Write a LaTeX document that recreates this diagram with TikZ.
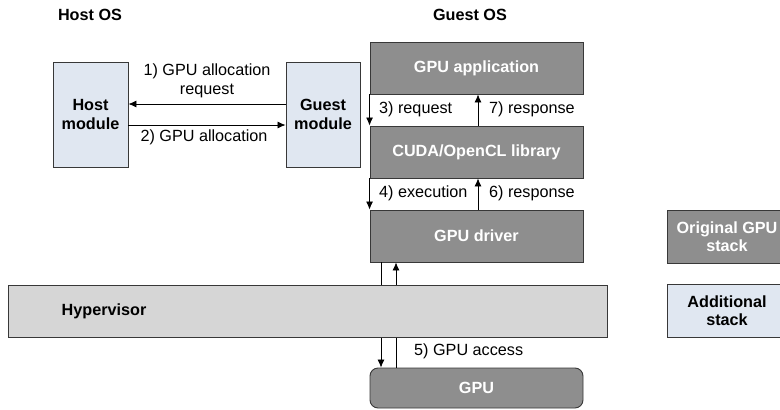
\documentclass[tikz,border=0pt]{standalone}
\usepackage{fontspec}
\setmainfont{Liberation Sans}
\usepackage{tikz}
\usetikzlibrary{arrows.meta}
\definecolor{stackgray}{HTML}{8E8E8E}
\definecolor{addblue}{HTML}{E0E7F1}
\definecolor{hypgray}{HTML}{D6D6D6}
\definecolor{edgegray}{HTML}{383838}

\begin{document}
\begin{tikzpicture}[x=1pt,y=-1pt,
		font=\fontsize{16.2}{18.5}\selectfont,
		origbox/.style={draw=edgegray,line width=0.9pt,fill=stackgray,text=white,font=\fontsize{16.2}{18.5}\selectfont\bfseries,align=center,inner sep=0pt,minimum width=213pt,minimum height=52pt},
		addbox/.style={draw=edgegray,line width=0.9pt,fill=addblue,font=\fontsize{16.2}{18.5}\selectfont\bfseries,align=center,inner sep=0pt,minimum height=105pt},
		msg/.style={draw=black,line width=0.8pt,-{Latex[length=8pt,width=7pt]}},
		lbl/.style={inner sep=0pt}]
		    \useasboundingbox (0,0) rectangle (780,410);
		    \clip (0,0) rectangle (780,410);
		
		    \node[font=\fontsize{16.2}{18.5}\selectfont\bfseries] (hostos) at (90,15) {Host OS};
		    \node[font=\fontsize{16.2}{18.5}\selectfont\bfseries] (guestos) at (470,15) {Guest OS};
		
		    \node[addbox,minimum width=75pt] (host) at (90.5,114.5) {Host\\module};
		    \node[addbox,minimum width=74pt] (guest) at (323,114.5) {Guest\\module};
		
		    \draw[msg] ([yshift=10.5pt]guest.west) -- ([yshift=10.5pt]host.east);
		    \draw[msg] ([yshift=-10.5pt]host.east) -- ([yshift=-10.5pt]guest.west);
		    \node[lbl,align=center] (req) at (207,81) {1) GPU allocation\\request};
		    \node[lbl] (alloc) at (204,137) {2) GPU allocation};
		
		    \node[origbox] (app) at (476.5,68) {GPU application};
		    \node[origbox] (lib) at (476.5,152) {CUDA/OpenCL library};
		    \node[origbox] (driver) at (476.5,236) {GPU driver};
		    \node[origbox,rounded corners=8pt,minimum height=40pt] (gpu) at (476.5,388) {GPU};
		
		    \draw[msg] (app.south west) -- (lib.north west);
		    \draw[msg] ([xshift=1.5pt]lib.north) -- ([xshift=1.5pt]app.south);
		    \node[lbl,anchor=west] (l3) at (379,109) {3) request};
		    \node[lbl,anchor=west] (l7) at (489,109) {7) response};
		
		    \draw[msg] (lib.south west) -- (driver.north west);
		    \draw[msg] ([xshift=1.5pt]driver.north) -- ([xshift=1.5pt]lib.south);
		    \node[lbl,anchor=west] (l4) at (379,193) {4) execution};
		    \node[lbl,anchor=west] (l6) at (489,193) {6) response};
		
		    \draw[msg] ([xshift=-95.5pt]driver.south) -- ([xshift=-95.5pt]gpu.north);
		    \draw[msg] ([xshift=-80.5pt]gpu.north) -- ([xshift=-80.5pt]driver.south);
		    \node[lbl,anchor=west] (l5) at (414,351) {5) GPU access};
		
		    \node[draw=edgegray,line width=0.9pt,fill=hypgray,inner sep=0pt,minimum width=599pt,minimum height=52pt] (hyp) at (307.5,311) {};
		    \node[font=\fontsize{16.2}{18.5}\selectfont\bfseries] (hyptext) at (104,311) {Hypervisor};
		
		    \node[origbox,minimum width=120pt,minimum height=53pt] (legorig) at (727,236.5) {Original GPU\\stack};
		    \node[addbox,minimum width=120pt,minimum height=53pt] (legadd) at (727,310.5) {Additional\\stack};
	    \end{tikzpicture}
\end{document}
